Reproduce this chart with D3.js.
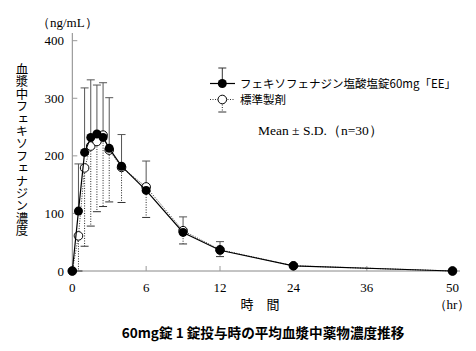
<!DOCTYPE html>
<html>
<head>
<meta charset="utf-8">
<script src="https://cdn.jsdelivr.net/npm/d3@7"></script>
<style>
  html, body { margin: 0; padding: 0; background: #fff; }
</style>
</head>
<body>
<svg id="plot" width="476" height="351"></svg>
<script>
// Sampling times (hr)
const times = [0, 0.5, 1, 1.5, 2, 2.5, 3, 4, 6, 9, 12, 24, 50];

// Test product (filled) mean and SD (drawn upward)
const eeMean = [0, 104, 206, 232, 238, 232, 213, 182, 140, 67, 36, 9, 0];
const eeSD = [0, 82, 112, 100, 85, 95, 88, 55, 51, 27, 15, 4, 0];

// Reference product (open) mean and SD (drawn downward)
const refMean = [0, 61, 179, 217, 225, 236, 210, 180, 146, 70, 37, 9, 0];
const refSD = [0, 61, 136, 139, 122, 124, 90, 61, 53, 23, 12, 3, 0];

// Tick labels
const xTicks = [0, 6, 12, 24, 36, 50];
const yTicks = [0, 100, 200, 300, 400];

const legendLabels = ["フェキソフェナジン塩酸塩錠60mg「EE」", "標準製剤"];

const serif = "'Liberation Serif', 'DejaVu Serif', serif";
const jp = "'Noto Sans CJK JP', sans-serif";

const svg = d3.select("#plot");

// x axis is compressed after 12 hr
const x = d3.scaleLinear().domain([0, 12, 50]).range([72.3, 220, 452.5]);
const y = d3.scaleLinear().domain([0, 400]).range([271, 40.7]);

// Axes
svg.append("line")
    .attr("x1", x(0)).attr("x2", x(0))
    .attr("y1", y(0)).attr("y2", 33)
    .attr("stroke", "#888").attr("stroke-width", 1);
svg.append("line")
    .attr("x1", x(0)).attr("x2", 460)
    .attr("y1", y(0)).attr("y2", y(0))
    .attr("stroke", "#888").attr("stroke-width", 1);

// Inward ticks
svg.selectAll("line.ytick")
    .data(yTicks.filter((d) => d > 0))
    .enter()
    .append("line")
    .attr("class", "ytick")
    .attr("x1", x(0)).attr("x2", x(0) + 5)
    .attr("y1", (d) => y(d)).attr("y2", (d) => y(d))
    .attr("stroke", "#999");
svg.selectAll("line.xtick")
    .data(xTicks.filter((d) => d > 0 && d < 50))
    .enter()
    .append("line")
    .attr("class", "xtick")
    .attr("x1", (d) => x(d)).attr("x2", (d) => x(d))
    .attr("y1", y(0)).attr("y2", y(0) - 5)
    .attr("stroke", "#999");

// Tick labels
svg.selectAll("text.ylab")
    .data(yTicks)
    .enter()
    .append("text")
    .attr("class", "ylab")
    .attr("x", 64)
    .attr("y", (d) => y(d))
    .attr("dy", "0.35em")
    .attr("text-anchor", "end")
    .attr("font-family", serif)
    .attr("font-size", 13)
    .text((d) => d);
svg.selectAll("text.xlab")
    .data(xTicks)
    .enter()
    .append("text")
    .attr("class", "xlab")
    .attr("x", (d) => x(d))
    .attr("y", 287)
    .attr("dy", "0.35em")
    .attr("text-anchor", "middle")
    .attr("font-family", serif)
    .attr("font-size", 13)
    .text((d) => d);

// Axis titles
svg.append("text")
    .attr("x", 37).attr("y", 22).attr("dy", "0.35em")
    .attr("font-family", serif).attr("font-size", 13)
    .text("（ng/mL）");
svg.append("text")
    .attr("x", 22).attr("y", 63)
    .attr("font-family", jp).attr("font-size", 12.4)
    .style("writing-mode", "vertical-rl")
    .text("血漿中フェキソフェナジン濃度");
svg.append("text")
    .attr("x", 260).attr("y", 304).attr("dy", "0.35em")
    .attr("text-anchor", "middle")
    .attr("font-family", jp).attr("font-size", 13)
    .text("時　間");
svg.append("text")
    .attr("x", 452).attr("y", 304).attr("dy", "0.35em")
    .attr("text-anchor", "middle")
    .attr("font-family", serif).attr("font-size", 13)
    .text("（hr）");
svg.append("text")
    .attr("x", 263).attr("y", 333).attr("dy", "0.35em")
    .attr("text-anchor", "middle")
    .attr("font-family", jp).attr("font-size", 13.6).attr("font-weight", "bold")
    .text("60mg錠 1 錠投与時の平均血漿中薬物濃度推移");

const ref = times.map((t, i) => ({ t: t, m: refMean[i], sd: refSD[i] }));
const ee = times.map((t, i) => ({ t: t, m: eeMean[i], sd: eeSD[i] }));

// Lower SD bars of reference (dotted)
const refBars = svg.append("g").selectAll("g").data(ref.filter((d) => d.sd > 0)).enter().append("g");
refBars.append("line")
    .attr("x1", (d) => x(d.t)).attr("x2", (d) => x(d.t))
    .attr("y1", (d) => y(d.m)).attr("y2", (d) => y(Math.max(0, d.m - d.sd)))
    .attr("stroke", "#222").attr("stroke-dasharray", "1,1.5");
refBars.append("line")
    .attr("x1", (d) => x(d.t) - 4).attr("x2", (d) => x(d.t) + 4)
    .attr("y1", (d) => y(Math.max(0, d.m - d.sd))).attr("y2", (d) => y(Math.max(0, d.m - d.sd)))
    .attr("stroke", "#333");

// Upper SD bars of test product (solid)
const eeBars = svg.append("g").selectAll("g").data(ee.filter((d) => d.sd > 0)).enter().append("g");
eeBars.append("line")
    .attr("x1", (d) => x(d.t)).attr("x2", (d) => x(d.t))
    .attr("y1", (d) => y(d.m)).attr("y2", (d) => y(d.m + d.sd))
    .attr("stroke", "#555");
eeBars.append("line")
    .attr("x1", (d) => x(d.t) - 4).attr("x2", (d) => x(d.t) + 4)
    .attr("y1", (d) => y(d.m + d.sd)).attr("y2", (d) => y(d.m + d.sd))
    .attr("stroke", "#555");

const line = d3.line().x((d) => x(d.t)).y((d) => y(d.m));

// Reference: dotted line + open circles
svg.append("path")
    .datum(ref)
    .attr("d", line)
    .attr("fill", "none")
    .attr("stroke", "#333")
    .attr("stroke-dasharray", "1,1.5");
svg.selectAll("circle.ref")
    .data(ref)
    .enter()
    .append("circle")
    .attr("class", "ref")
    .attr("cx", (d) => x(d.t)).attr("cy", (d) => y(d.m))
    .attr("r", 4.3)
    .attr("fill", "#fff").attr("stroke", "#000");

// Test product: solid line + filled circles
svg.append("path")
    .datum(ee)
    .attr("d", line)
    .attr("fill", "none")
    .attr("stroke", "#000")
    .attr("stroke-width", 1.2);
svg.selectAll("circle.ee")
    .data(ee)
    .enter()
    .append("circle")
    .attr("class", "ee")
    .attr("cx", (d) => x(d.t)).attr("cy", (d) => y(d.m))
    .attr("r", 4.5)
    .attr("fill", "#000");

// Legend
const lx = 222.3;
const legend = svg.append("g");
legend.append("line").attr("x1", lx).attr("x2", lx).attr("y1", 68).attr("y2", 83.5).attr("stroke", "#333");
legend.append("line").attr("x1", lx - 4).attr("x2", lx + 4).attr("y1", 68).attr("y2", 68).attr("stroke", "#333");
legend.append("line").attr("x1", 210).attr("x2", 235).attr("y1", 83.5).attr("y2", 83.5)
    .attr("stroke", "#000").attr("stroke-width", 1.2);
legend.append("circle").attr("cx", lx).attr("cy", 83.5).attr("r", 4.5).attr("fill", "#000");

legend.append("line").attr("x1", lx).attr("x2", lx).attr("y1", 99.5).attr("y2", 112)
    .attr("stroke", "#222").attr("stroke-dasharray", "1,1.5");
legend.append("line").attr("x1", lx - 4).attr("x2", lx + 4).attr("y1", 112).attr("y2", 112).attr("stroke", "#333");
legend.append("line").attr("x1", 210).attr("x2", 235).attr("y1", 99.5).attr("y2", 99.5)
    .attr("stroke", "#333").attr("stroke-dasharray", "1,1.5");
legend.append("circle").attr("cx", lx).attr("cy", 99.5).attr("r", 4.3)
    .attr("fill", "#fff").attr("stroke", "#000");

legend.selectAll("text")
    .data(legendLabels)
    .enter()
    .append("text")
    .attr("x", 240)
    .attr("y", (d, i) => 83.5 + i * 16)
    .attr("dy", "0.35em")
    .attr("font-family", jp)
    .attr("font-size", 11.5)
    .text((d) => d);

svg.append("text")
    .attr("x", 258).attr("y", 130).attr("dy", "0.35em")
    .attr("font-family", serif).attr("font-size", 13.5)
    .text("Mean ± S.D.（n=30）");
</script>
</body>
</html>
